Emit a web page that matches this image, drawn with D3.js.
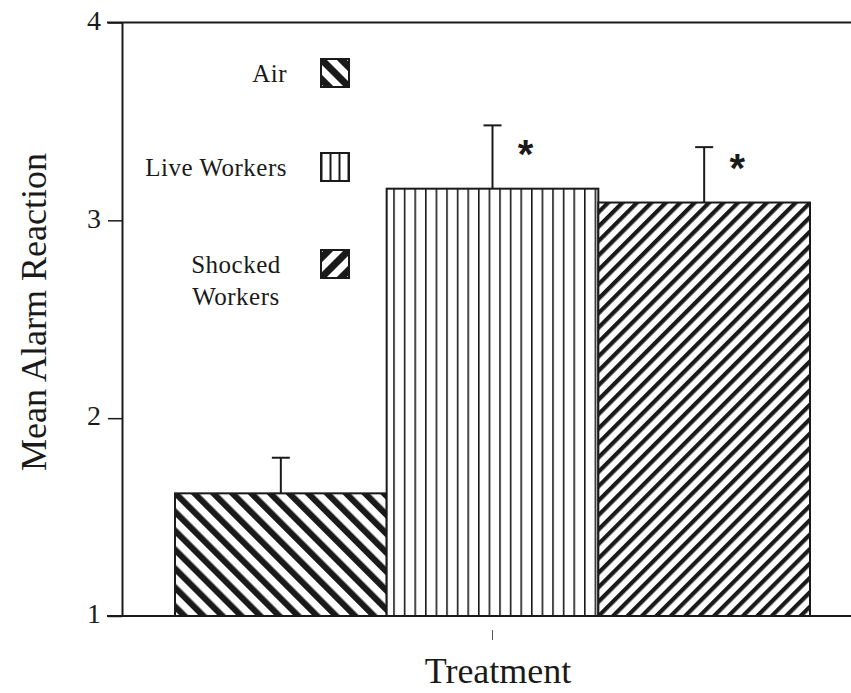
<!DOCTYPE html>
<html>
<head>
<meta charset="utf-8">
<script src="https://cdn.jsdelivr.net/npm/d3@7"></script>
<style>
  html, body { margin: 0; padding: 0; background: #fff; }
  svg { display: block; }
  text { font-family: "Liberation Serif", "Times New Roman", serif; fill: #1a1a1a; }
</style>
</head>
<body>
<svg id="chart" width="851" height="693"></svg>
<script>
// Treatment groups and their mean alarm reaction
const categories = ["Air", "Live Workers", "Shocked Workers"];
const means = [1.62, 3.16, 3.09];
const upperErrors = [0.18, 0.32, 0.28];
const significant = [false, true, true];
const yTicks = [1, 2, 3, 4];
const legendLabels = [["Air"], ["Live Workers"], ["Shocked", "Workers"]];
const fills = ["hatchBack", "vlines", "hatchFwd"];
const swatchFills = ["swBack", "swV", "swFwd"];

const ink = "#1a1a1a";
const svg = d3.select("#chart");

// Hatch patterns
const defs = svg.append("defs");
function stripes(id, period, thick, angle, offset) {
  const p = defs.append("pattern")
    .attr("id", id)
    .attr("patternUnits", "userSpaceOnUse")
    .attr("x", offset || 0)
    .attr("width", period).attr("height", period)
    .attr("patternTransform", `rotate(${angle})`);
  p.append("rect").attr("width", period).attr("height", period).attr("fill", "#fff");
  p.append("rect").attr("x", 0).attr("y", 0).attr("width", thick).attr("height", period).attr("fill", ink);
}
stripes("hatchBack", 13.4, 6.2, -45);
stripes("hatchFwd", 10.2, 4.2, 45);
stripes("swBack", 14, 7, -45, 13.76);
stripes("swFwd", 14, 7, 45, 0.06);
function vstripes(id, period, thick, offset) {
  const p = defs.append("pattern").attr("id", id)
    .attr("patternUnits", "userSpaceOnUse").attr("width", period).attr("height", 10)
    .attr("x", offset);
  p.append("rect").attr("width", period).attr("height", 10).attr("fill", "#fff");
  p.append("rect").attr("x", 0).attr("width", thick).attr("height", 10).attr("fill", ink);
}
vstripes("vlines", 10.6, 1.6, 1);
vstripes("swV", 9, 2, 329.5);

// Scales
const y = d3.scaleLinear().domain([1, 4]).range([616, 22.5]);
const x = d3.scaleBand().domain(categories).range([175, 810]).padding(0);

// Frame lines at the top and bottom of the value range
svg.append("g").selectAll("line").data([4, 1]).join("line")
  .attr("x1", 107).attr("x2", 851)
  .attr("y1", d => y(d)).attr("y2", d => y(d))
  .attr("stroke", ink).attr("stroke-width", 2);

// Y axis
const yAxis = svg.append("g").attr("transform", "translate(122,0)")
  .call(d3.axisLeft(y).tickValues(yTicks).tickFormat(d3.format("d")).tickSize(14).tickSizeOuter(0).tickPadding(7));
yAxis.select(".domain").attr("stroke", ink).attr("stroke-width", 2);
yAxis.selectAll(".tick line").attr("stroke", ink).attr("stroke-width", 1.5);
yAxis.selectAll(".tick text")
  .attr("font-size", 28).attr("fill", ink)
  .attr("dy", "0.24em");

// Bars
svg.append("g").selectAll("rect").data(categories).join("rect")
  .attr("x", d => x(d))
  .attr("width", x.bandwidth())
  .attr("y", (d, i) => y(means[i]))
  .attr("height", (d, i) => y(1) - y(means[i]))
  .attr("fill", (d, i) => `url(#${fills[i]})`)
  .attr("stroke", ink).attr("stroke-width", 2);

// Upper error bars
const err = svg.append("g").attr("stroke", ink).attr("stroke-width", 2);
categories.forEach((c, i) => {
  const cx = x(c) + x.bandwidth() / 2;
  err.append("line").attr("x1", cx).attr("x2", cx)
    .attr("y1", y(means[i])).attr("y2", y(means[i] + upperErrors[i]));
  err.append("line").attr("x1", cx - 9).attr("x2", cx + 9)
    .attr("y1", y(means[i] + upperErrors[i])).attr("y2", y(means[i] + upperErrors[i]));
});

// Significance markers
svg.append("g").selectAll("text").data(categories.filter((c, i) => significant[i])).join("text")
  .attr("x", d => x(d) + x.bandwidth() / 2 + 33)
  .attr("y", d => y(means[categories.indexOf(d)]) - 21)
  .attr("text-anchor", "middle")
  .attr("font-weight", "bold")
  .attr("font-size", 40)
  .style("font-family", "Liberation Sans, Arial, sans-serif")
  .text("*");

// X axis tick under the middle group
svg.append("line")
  .attr("x1", x(categories[1]) + x.bandwidth() / 2).attr("x2", x(categories[1]) + x.bandwidth() / 2)
  .attr("y1", 630).attr("y2", 640)
  .attr("stroke", "#555").attr("stroke-width", 1);

// Axis titles
svg.append("text")
  .attr("x", 498).attr("y", 683)
  .attr("text-anchor", "middle")
  .attr("font-size", 36)
  .text("Treatment");
svg.append("text")
  .attr("transform", "translate(46,312) rotate(-90)")
  .attr("text-anchor", "middle")
  .attr("font-size", 36)
  .text("Mean Alarm Reaction");

// Legend
const legendTops = [59, 153, 250];
const legend = svg.append("g");
categories.forEach((c, i) => {
  legend.append("rect")
    .attr("x", 321).attr("y", legendTops[i])
    .attr("width", 28).attr("height", 28)
    .attr("fill", `url(#${swatchFills[i]})`)
    .attr("stroke", ink).attr("stroke-width", 2);
  const lines = legendLabels[i];
  lines.forEach((t, k) => {
    legend.append("text")
      .attr("x", lines.length > 1 ? 236 : 287)
      .attr("y", legendTops[i] + (lines.length > 1 ? 23 + k * 32 : 23))
      .attr("text-anchor", lines.length > 1 ? "middle" : "end")
      .attr("font-size", 25)
      .attr("letter-spacing", 0.5)
      .text(t);
  });
});
</script>
</body>
</html>
